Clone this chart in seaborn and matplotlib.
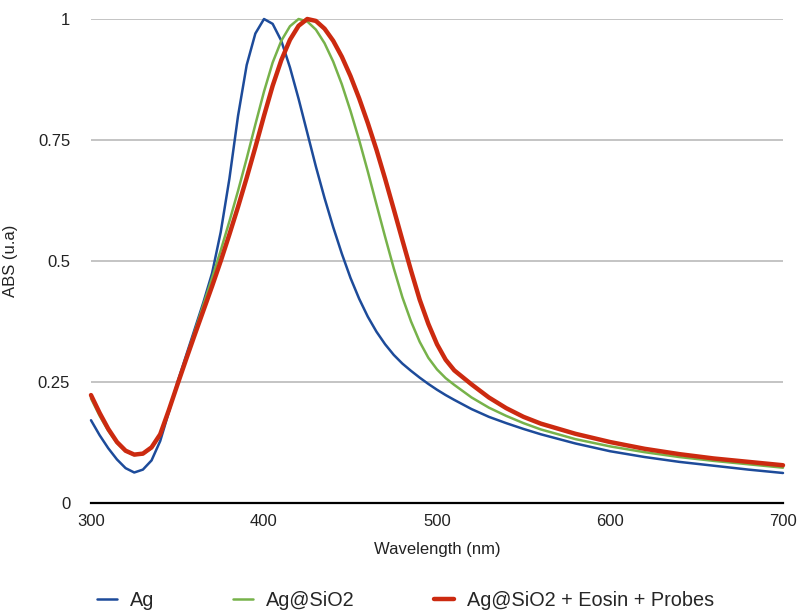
import numpy as np
import pandas as pd
import matplotlib
matplotlib.use("Agg")
import matplotlib.pyplot as plt
import seaborn as sns

wavelength = [300, 305, 310, 315, 320, 325, 330, 335, 340, 345, 350, 355, 360, 365, 370,
              375, 380, 385, 390, 395, 400, 405, 410, 415, 420, 425, 430, 435, 440, 445,
              450, 455, 460, 465, 470, 475, 480, 485, 490, 495, 500, 505, 510,
              520, 530, 540, 550, 560, 580, 600, 620, 640, 660, 680, 700]

ag = [0.171, 0.140, 0.113, 0.090, 0.072, 0.063, 0.069, 0.088, 0.128, 0.188,
      0.250, 0.305, 0.360, 0.415, 0.475, 0.560, 0.670, 0.800, 0.905, 0.970,
      1.000, 0.990, 0.955, 0.900, 0.835, 0.765, 0.695, 0.630, 0.570, 0.515,
      0.465, 0.422, 0.385, 0.354, 0.328, 0.306, 0.288, 0.273, 0.259, 0.246,
      0.234, 0.223, 0.213,
      0.194, 0.178, 0.165, 0.153, 0.142, 0.123, 0.107, 0.095, 0.085, 0.077, 0.069, 0.062]

ag_sio2 = [0.216, 0.180, 0.149, 0.124, 0.107, 0.099, 0.101, 0.113, 0.140, 0.190,
           0.245, 0.300, 0.355, 0.410, 0.465, 0.522, 0.582, 0.645, 0.712, 0.782,
           0.850, 0.910, 0.955, 0.985, 1.000, 0.995, 0.978, 0.950, 0.912, 0.865,
           0.810, 0.750, 0.685, 0.617, 0.550, 0.485, 0.425, 0.375, 0.333, 0.300,
           0.276, 0.258, 0.244,
           0.218, 0.197, 0.180, 0.165, 0.152, 0.132, 0.117, 0.105, 0.095, 0.087, 0.080, 0.073]

ag_sio2_eosin = [0.223, 0.186, 0.153, 0.126, 0.108, 0.100, 0.102, 0.115, 0.142, 0.192,
                 0.245, 0.297, 0.348, 0.398, 0.448, 0.500, 0.555, 0.612, 0.672, 0.735,
                 0.800, 0.862, 0.915, 0.957, 0.986, 1.000, 0.996, 0.980, 0.955, 0.922,
                 0.882, 0.836, 0.785, 0.730, 0.670, 0.607, 0.543, 0.480, 0.420, 0.370,
                 0.328, 0.296, 0.274,
                 0.245, 0.218, 0.196, 0.178, 0.164, 0.143, 0.126, 0.112, 0.101, 0.092, 0.085, 0.078]

series_names = ["Ag", "Ag@SiO2", "Ag@SiO2 + Eosin + Probes"]
colors = ["#1d4b9a", "#77b24a", "#cc2a10"]
widths = [1.8, 1.8, 3.2]

df = pd.concat([
    pd.DataFrame({"Wavelength": wavelength, "ABS": vals, "Sample": name})
    for name, vals in zip(series_names, [ag, ag_sio2, ag_sio2_eosin])
])

sns.set_theme(style="white")
plt.rcParams["font.family"] = ["Liberation Sans", "DejaVu Sans"]

fig = plt.figure(figsize=(7.99, 6.11), dpi=100)
ax = fig.add_axes([91 / 799, 1 - 503 / 611, (783 - 91) / 799, (503 - 19) / 611])

for name, col, lw in zip(series_names, colors, widths):
    sns.lineplot(data=df[df["Sample"] == name], x="Wavelength", y="ABS", color=col,
                 linewidth=lw, ax=ax, label=name, clip_on=False, zorder=3,
                 solid_joinstyle="round", solid_capstyle="round")

ax.set_xlim(300, 700)
ax.set_ylim(0, 1)
ax.set_xticks([300, 400, 500, 600, 700])
ax.set_yticks([0, 0.25, 0.5, 0.75, 1])
ax.set_yticklabels(["0", "0.25", "0.5", "0.75", "1"])
ax.yaxis.grid(True, color="#b4b4b4", linewidth=1.1)
ax.xaxis.grid(False)
for s in ["top", "right", "left"]:
    ax.spines[s].set_visible(False)
ax.spines["bottom"].set_color("black")
ax.spines["bottom"].set_linewidth(1.6)
ax.tick_params(axis="both", length=0, labelsize=12, colors="#222222")
ax.tick_params(axis="y", pad=15)
ax.tick_params(axis="x", pad=8)
ax.set_xlabel("Wavelength (nm)", fontsize=12, color="#222222", labelpad=9)
ax.set_ylabel("ABS (u.a)", fontsize=12, color="#222222", labelpad=14)

ax.get_legend().remove()
handles, labels = ax.get_legend_handles_labels()
fig.legend(handles, labels, ncol=3, loc="center left", bbox_to_anchor=(79 / 799, 1 - 600 / 611),
           frameon=False, fontsize=14.3, handlelength=1.0, handletextpad=0.65,
           columnspacing=4.0)

fig.savefig("out.png", dpi=100)
